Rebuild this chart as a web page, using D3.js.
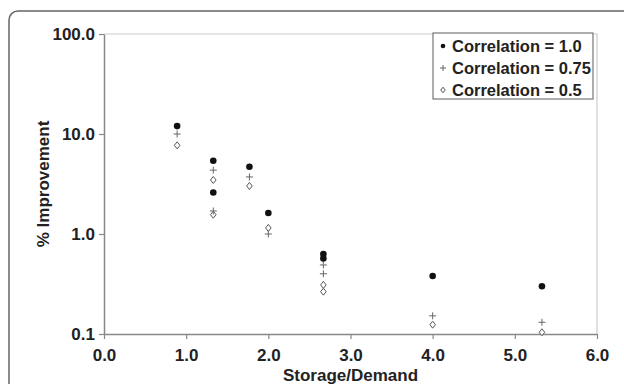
<!DOCTYPE html>
<html>
<head>
<meta charset="utf-8">
<script src="https://cdn.jsdelivr.net/npm/d3@7"></script>
<style>
  body { margin: 0; background: #fff; }
  text { font-family: "Liberation Sans", Arial, sans-serif; font-weight: bold; fill: #222; }
</style>
</head>
<body>
<div id="wrapper"></div>
<script>
// values (log scale on y)
const seriesNames = ["Correlation = 1.0", "Correlation = 0.75", "Correlation = 0.5"];
const storageDemand = [0.89, 1.33, 1.33, 1.77, 2.0, 2.67, 2.67, 4.0, 5.33];
const corr100 = [12.0, 5.4, 2.6, 4.7, 1.62, 0.63, 0.57, 0.38, 0.30];
const corr075 = [10.0, 4.35, 1.7, 3.72, 1.0, 0.49, 0.40, 0.152, 0.131];
const corr050 = [7.7, 3.47, 1.56, 3.02, 1.15, 0.31, 0.265, 0.124, 0.104];
const xTicks = [0, 1, 2, 3, 4, 5, 6];
const yTicks = [0.1, 1, 10, 100];

const dimension = {
    width: 624,
    height: 384,
    margin: { top: 34, left: 104, bottom: 50, right: 27 }
};
dimension.boundedWidth = dimension.width - dimension.margin.left - dimension.margin.right;
dimension.boundedHeight = dimension.height - dimension.margin.top - dimension.margin.bottom;

const fontSize = 17;

const svg = d3.select("#wrapper").append("svg")
    .attr("width", dimension.width)
    .attr("height", dimension.height);

// outer rounded frame, runs off the right and bottom edges
svg.append("rect")
    .attr("x", 9).attr("y", 11)
    .attr("width", 640).attr("height", 400)
    .attr("rx", 9)
    .attr("fill", "none")
    .attr("stroke", "#666")
    .attr("stroke-width", 1.5);

const bounded = svg.append("g")
    .attr("transform", `translate(${dimension.margin.left},${dimension.margin.top})`);

const xScaler = d3.scaleLinear()
    .domain([0, 6])
    .range([0, dimension.boundedWidth]);

const yScaler = d3.scaleLog()
    .domain([0.1, 100])
    .range([dimension.boundedHeight, 0]);

// light plot border top / right
bounded.append("path")
    .attr("d", `M0,0H${dimension.boundedWidth}V${dimension.boundedHeight}`)
    .attr("fill", "none")
    .attr("stroke", "#ccc")
    .attr("stroke-width", 1.2);

const fmt = d3.format(".1f");

const xAxis = bounded.append("g")
    .attr("transform", `translate(0,${dimension.boundedHeight})`)
    .call(d3.axisBottom(xScaler).tickValues(xTicks).tickFormat(fmt).tickSize(5).tickSizeOuter(0));

const yAxis = bounded.append("g")
    .call(d3.axisLeft(yScaler).tickValues(yTicks).tickFormat(fmt).tickSize(5).tickSizeOuter(0));

[xAxis, yAxis].forEach(ax => {
    ax.select(".domain").attr("stroke", "#888").attr("stroke-width", 1.5);
    ax.selectAll(".tick line").attr("stroke", "#888").attr("stroke-width", 1.2);
    ax.selectAll(".tick text")
        .attr("font-family", "Liberation Sans, Arial, sans-serif")
        .attr("font-weight", "bold")
        .attr("font-size", fontSize)
        .attr("fill", "#222");
});
xAxis.selectAll(".tick text").attr("dy", "1.1em");
yAxis.selectAll(".tick text").attr("x", -9);

// axis titles
svg.append("text")
    .attr("x", dimension.margin.left + dimension.boundedWidth / 2)
    .attr("y", 381)
    .attr("text-anchor", "middle")
    .attr("font-size", fontSize)
    .text("Storage/Demand");

svg.append("text")
    .attr("transform", `translate(49,${dimension.margin.top + dimension.boundedHeight / 2}) rotate(-90)`)
    .attr("text-anchor", "middle")
    .attr("font-size", fontSize)
    .text("% Improvement");

// markers
const drawDot = (g, r) => g.append("circle").attr("r", r).attr("fill", "#111");
const drawPlus = (g, s) => g.append("path")
    .attr("d", `M${-s},0H${s}M0,${-s}V${s}`)
    .attr("stroke", "#666").attr("stroke-width", 1).attr("fill", "none");
const drawDiamond = (g, s) => g.append("path")
    .attr("d", `M0,${-s}L${s * 0.8},0L0,${s}L${-s * 0.8},0Z`)
    .attr("stroke", "#555").attr("stroke-width", 1).attr("fill", "#fff");

const series = [
    { values: corr050, draw: g => drawDiamond(g, 3.5) },
    { values: corr075, draw: g => drawPlus(g, 3.5) },
    { values: corr100, draw: g => drawDot(g, 3.3) }
];

series.forEach(s => {
    s.values.forEach((v, i) => {
        const g = bounded.append("g")
            .attr("transform", `translate(${xScaler(storageDemand[i])},${yScaler(v)})`);
        s.draw(g);
    });
});

// legend
const legend = svg.append("g").attr("transform", "translate(433,33)");
legend.append("rect")
    .attr("width", 160).attr("height", 66)
    .attr("fill", "#fff")
    .attr("stroke", "#777")
    .attr("stroke-width", 1.2);

const legendMarkers = [g => drawDot(g, 2.3), g => drawPlus(g, 3), g => drawDiamond(g, 2.8)];
seriesNames.forEach((name, i) => {
    const row = legend.append("g").attr("transform", `translate(0,${13 + i * 22})`);
    legendMarkers[i](row.append("g").attr("transform", "translate(10,0)"));
    row.append("text")
        .attr("x", 19)
        .attr("dy", "0.36em")
        .attr("font-size", 16.5)
        .text(name);
});
</script>
</body>
</html>
